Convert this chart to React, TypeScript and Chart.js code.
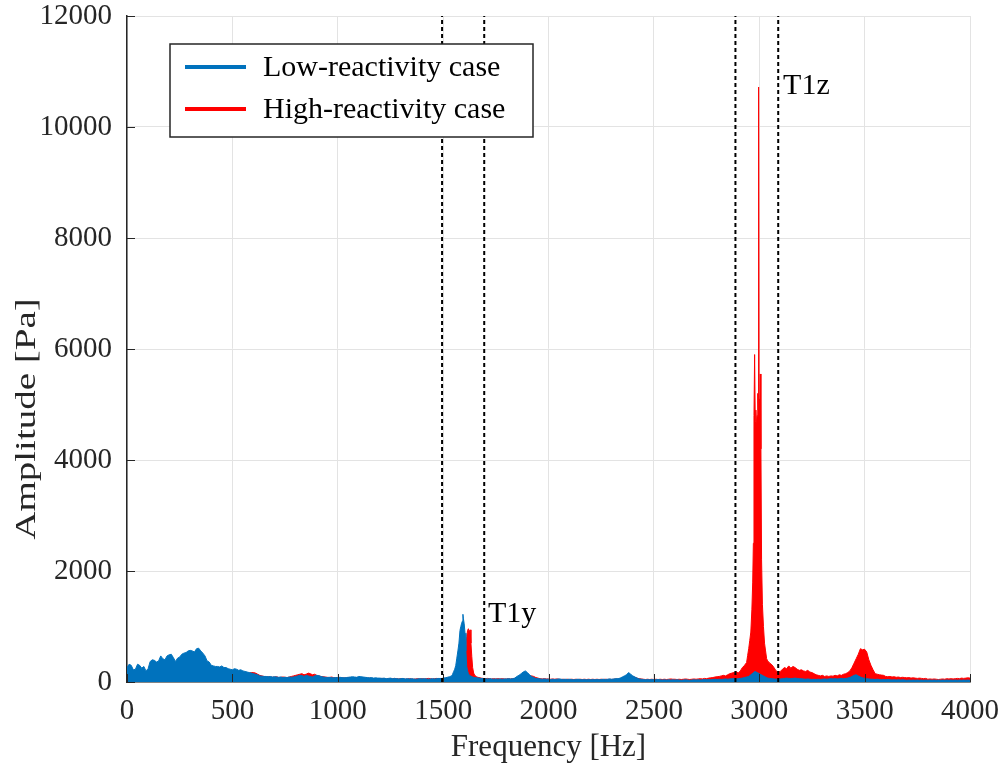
import React, { useEffect, useRef } from 'react';
import { Chart, registerables } from 'chart.js';

Chart.register(...registerables);

// ---------------- DATA ----------------
const STEP_HZ = 10; // base spectrum sampling: 0..4000 Hz every 10 Hz
const X_TICKS = [0, 500, 1000, 1500, 2000, 2500, 3000, 3500, 4000];
const Y_TICKS = [0, 2000, 4000, 6000, 8000, 10000, 12000];

// Low-reactivity case (blue), base grid, 10 Hz step
const lowAmp = [
  260, 320, 300, 220, 230, 320, 300, 250, 280, 200, 240, 370, 400, 390, 360, 380, 470, 420, 400, 470,
  490, 500, 440, 370, 430, 450, 500, 520, 530, 560, 570, 560, 540, 600, 610, 560, 520, 470, 380, 360,
  300, 290, 280, 280, 270, 290, 260, 260, 240, 230, 220, 240, 230, 210, 220, 200, 190, 180, 170, 160,
  150, 140, 130, 110, 105, 100, 100, 95, 100, 90, 95, 90, 85, 90, 80, 85, 80, 90, 85, 90,
  100, 110, 120, 115, 100, 120, 110, 100, 90, 110, 120, 115, 100, 90, 85, 80, 85, 80, 75, 80,
  80, 85, 80, 75, 80, 85, 90, 95, 90, 85, 100, 95, 90, 85, 80, 75, 80, 70, 75, 70,
  70, 65, 70, 60, 65, 70, 60, 65, 60, 55, 60, 65, 55, 60, 55, 60, 55, 50, 55, 60,
  55, 60, 55, 50, 55, 60, 55, 60, 65, 60, 70, 75, 85, 95, 110, 150, 250, 430, 900, 1000,
  1200, 560, 150, 100, 90, 80, 75, 70, 65, 60, 60, 55, 60, 55, 50, 55, 50, 55, 50, 55,
  55, 60, 55, 60, 70, 100, 120, 150, 180, 200, 170, 130, 100, 80, 65, 60, 55, 50, 55, 50,
  50, 45, 50, 45, 50, 55, 50, 45, 50, 45, 50, 45, 40, 45, 50, 45, 40, 45, 40, 45,
  40, 45, 40, 45, 40, 45, 50, 45, 50, 55, 50, 55, 60, 60, 70, 90, 110, 130, 170, 140,
  110, 90, 70, 55, 50, 45, 40, 45, 40, 45, 40, 40, 45, 40, 35, 40, 35, 40, 35, 40,
  35, 40, 35, 30, 35, 40, 35, 30, 35, 40, 35, 40, 35, 40, 45, 40, 45, 40, 45, 50,
  45, 50, 45, 50, 55, 50, 55, 60, 60, 55, 60, 65, 70, 80, 90, 100, 130, 160, 190, 170,
  150, 130, 110, 90, 70, 65, 60, 55, 50, 60, 55, 60, 65, 70, 65, 60, 65, 70, 65, 60,
  60, 55, 50, 55, 50, 45, 50, 45, 50, 45, 50, 55, 50, 55, 60, 55, 60, 55, 60, 65,
  60, 65, 70, 80, 100, 120, 130, 110, 90, 75, 65, 60, 55, 50, 50, 45, 50, 45, 40, 45,
  40, 45, 40, 35, 40, 35, 40, 35, 40, 35, 30, 35, 30, 35, 30, 35, 30, 35, 30, 35,
  30, 35, 30, 35, 30, 35, 30, 35, 30, 35, 30, 35, 30, 35, 30, 35, 30, 35, 30, 35,
  30,
];
// Low-reactivity, fine detail around the T1y peak
const lowPeakFreq = [1540, 1545, 1550, 1555, 1560, 1565, 1570, 1575, 1580, 1584, 1588, 1592, 1594, 1596, 1600, 1604, 1608, 1612, 1616, 1620, 1625, 1630, 1640, 1650];
const lowPeakAmp = [110, 140, 190, 230, 300, 430, 560, 700, 930, 1000, 1060, 1100, 1220, 1150, 1050, 880, 560, 280, 200, 150, 120, 110, 90, 80];

// High-reactivity case (red), base grid, 10 Hz step
const highAmp = [
  60, 40, 80, 50, 30, 70, 50, 90, 40, 60, 80, 50, 70, 40, 90, 60, 50, 80, 60, 70,
  90, 60, 120, 80, 70, 100, 60, 90, 80, 110, 70, 90, 60, 100, 80, 70, 90, 60, 80, 70,
  80, 70, 90, 60, 80, 100, 70, 90, 110, 80, 100, 90, 120, 100, 110, 130, 120, 140, 160, 170,
  170, 160, 140, 120, 110, 100, 90, 95, 90, 85, 90, 95, 80, 85, 90, 85, 80, 90, 100, 110,
  120, 130, 140, 150, 130, 140, 160, 150, 130, 140, 120, 110, 100, 95, 90, 85, 80, 90, 80, 75,
  80, 75, 70, 75, 70, 80, 75, 70, 75, 80, 75, 70, 65, 70, 65, 70, 65, 60, 65, 60,
  60, 65, 60, 55, 60, 55, 60, 65, 60, 55, 60, 55, 50, 55, 60, 55, 50, 55, 60, 55,
  60, 55, 60, 65, 60, 55, 60, 65, 60, 65, 60, 65, 70, 65, 70, 75, 70, 80, 90, 120,
  250, 820, 960, 940, 260, 120, 90, 80, 70, 65, 60, 65, 60, 55, 60, 55, 60, 55, 60, 55,
  55, 60, 55, 60, 65, 70, 80, 90, 100, 110, 130, 120, 110, 100, 80, 70, 60, 55, 60, 55,
  55, 50, 55, 50, 55, 50, 45, 50, 45, 50, 45, 50, 45, 50, 45, 50, 45, 50, 45, 50,
  45, 50, 45, 50, 45, 50, 45, 50, 45, 50, 45, 50, 55, 50, 55, 60, 65, 70, 80, 90,
  100, 85, 70, 60, 55, 50, 45, 50, 45, 50, 45, 50, 45, 50, 45, 50, 45, 50, 55, 50,
  50, 45, 50, 45, 50, 55, 50, 45, 50, 55, 50, 55, 60, 55, 65, 60, 70, 75, 80, 90,
  95, 100, 110, 120, 110, 130, 150, 160, 170, 190, 160, 200, 260, 300, 350, 450, 600, 700, 900, 1200,
  4800, 5000, 1000, 600, 400, 340, 310, 260, 200, 180, 190, 230, 260, 240, 290, 250, 280, 260, 230, 210,
  220, 200, 190, 210, 180, 170, 150, 130, 120, 110, 120, 100, 110, 100, 110, 105, 120, 110, 130, 120,
  140, 150, 170, 200, 260, 340, 420, 500, 600, 580, 590, 540, 400, 300, 220, 150, 140, 130, 125, 120,
  100, 95, 100, 90, 95, 85, 90, 80, 85, 80, 75, 80, 70, 75, 70, 65, 70, 65, 60, 65,
  50, 55, 50, 55, 50, 45, 50, 55, 50, 60, 55, 60, 55, 60, 65, 60, 70, 65, 70, 75,
  70,
];
// High-reactivity, fine detail around T1y and T1z peaks
const highPeak1Freq = [1590, 1596, 1600, 1604, 1608, 1612, 1616, 1620, 1624, 1628, 1632, 1636, 1640, 1645, 1650, 1660];
const highPeak1Amp = [110, 150, 250, 400, 600, 820, 930, 960, 900, 940, 700, 460, 260, 160, 120, 90];
const highPeak2Freq = [2945, 2950, 2955, 2960, 2965, 2969, 2972, 2975, 2978, 2981, 2984, 2987, 2990, 2993, 2995, 2997, 2999, 3002, 3005, 3008, 3011, 3015, 3020, 3025, 3030, 3035, 3040];
const highPeak2Amp = [480, 600, 750, 900, 1300, 1800, 2500, 4800, 5900, 4700, 4900, 4600, 4800, 5200, 4900, 10720, 5100, 4800, 5550, 4200, 2200, 1400, 1000, 700, 560, 420, 380];

// Vertical dashed mode-band limits [Hz]
const bandLines = [1495, 1695, 2887, 3090];

// Labels
const seriesNames = ['Low-reactivity case', 'High-reactivity case'];
const seriesColors = ['#0072BD', '#FF0000'];
const modeLabels = ['T1y', 'T1z'];
const modeLabelFreq = [1713, 3113];
const modeLabelAmp = [1225, 10740];
const xTitle = 'Frequency [Hz]';
const yTitle = 'Amplitude [Pa]';

// ---------------- helpers ----------------
type Pt = { x: number; y: number };
function basePoints(amp: number[]): Pt[] {
  return amp.map((a, i) => ({ x: i * STEP_HZ, y: a }));
}
function withDetail(base: Pt[], freq: number[], amp: number[]): Pt[] {
  const lo = freq[0];
  const hi = freq[freq.length - 1];
  const kept = base.filter((p) => p.x < lo || p.x > hi);
  const det = freq.map((f, i) => ({ x: f, y: amp[i] }));
  return kept.concat(det).sort((a, b) => a.x - b.x);
}

const FONT = "'Liberation Serif', 'Times New Roman', serif";
const INK = '#262626';

const overlayPlugin = {
  id: 'overlay',
  afterDraw(chart: any) {
    const ctx = chart.ctx as CanvasRenderingContext2D;
    const xs = chart.scales.x;
    const ys = chart.scales.y;
    const { left, right, bottom } = chart.chartArea;
    ctx.save();
    // inward tick marks
    ctx.strokeStyle = INK;
    ctx.lineWidth = 1;
    ctx.beginPath();
    X_TICKS.forEach((v) => {
      const px = Math.round(xs.getPixelForValue(v)) + 0.5;
      ctx.moveTo(px, bottom);
      ctx.lineTo(px, bottom - 8);
    });
    Y_TICKS.forEach((v) => {
      const py = Math.round(ys.getPixelForValue(v)) + 0.5;
      ctx.moveTo(left, py);
      ctx.lineTo(left + 8, py);
    });
    ctx.stroke();

    // mode labels
    ctx.fillStyle = '#000';
    ctx.font = `30px ${FONT}`;
    ctx.textBaseline = 'middle';
    ctx.textAlign = 'left';
    modeLabels.forEach((t, i) => {
      ctx.fillText(t, xs.getPixelForValue(modeLabelFreq[i]), ys.getPixelForValue(modeLabelAmp[i]));
    });

    // legend
    const lx = 170, ly = 44, lw = 363, lh = 93;
    ctx.fillStyle = '#fff';
    ctx.fillRect(lx, ly, lw, lh);
    ctx.strokeStyle = INK;
    ctx.lineWidth = 1.5;
    ctx.strokeRect(lx, ly, lw, lh);
    seriesNames.forEach((name, i) => {
      const cy = ly + 23 + i * 42;
      ctx.strokeStyle = seriesColors[i];
      ctx.lineWidth = 4;
      ctx.beginPath();
      ctx.moveTo(lx + 15, cy);
      ctx.lineTo(lx + 76, cy);
      ctx.stroke();
      ctx.fillStyle = '#000';
      ctx.font = `30px ${FONT}`;
      ctx.textBaseline = 'middle';
      ctx.textAlign = 'left';
      ctx.fillText(name, lx + 93, cy + 1);
    });

    // axis titles
    ctx.fillStyle = INK;
    ctx.font = `31px ${FONT}`;
    ctx.textAlign = 'center';
    ctx.textBaseline = 'middle';
    ctx.fillText(xTitle, (left + right) / 2, 748);
    ctx.font = `30px ${FONT}`;
    ctx.translate(27, 419);
    ctx.rotate(-Math.PI / 2);
    ctx.scale(1.3, 1);
    ctx.fillText(yTitle, 0, 0);
    ctx.restore();
  },
};

export default function App() {
  const canvasRef = useRef<HTMLCanvasElement | null>(null);

  useEffect(() => {
    if (!canvasRef.current) return;
    const lowData = withDetail(basePoints(lowAmp), lowPeakFreq, lowPeakAmp);
    let highData = withDetail(basePoints(highAmp), highPeak1Freq, highPeak1Amp);
    highData = withDetail(highData, highPeak2Freq, highPeak2Amp);

    const dashed = bandLines.map((f) => ({
      label: 'band',
      data: [
        { x: f, y: 0 },
        { x: f, y: 12000 },
      ],
      borderColor: '#000',
      borderWidth: 2,
      borderDash: [4, 3],
      pointRadius: 0,
      fill: false,
      order: 0,
    }));

    const chart = new Chart(canvasRef.current, {
      type: 'line',
      data: {
        datasets: [
          ...dashed,
          {
            label: seriesNames[0],
            data: lowData,
            borderColor: seriesColors[0],
            backgroundColor: seriesColors[0],
            borderWidth: 1,
            pointRadius: 0,
            fill: 'origin',
            order: 1,
          },
          {
            label: seriesNames[1],
            data: highData,
            borderColor: seriesColors[1],
            backgroundColor: seriesColors[1],
            borderWidth: 1,
            pointRadius: 0,
            fill: 'origin',
            order: 2,
          },
        ],
      } as any,
      options: {
        responsive: false,
        animation: false,
        events: [],
        layout: { autoPadding: false, padding: { left: 0, right: 35, top: 16, bottom: 0 } },
        plugins: { legend: { display: false }, tooltip: { enabled: false } },
        elements: { line: { tension: 0 } },
        scales: {
          x: {
            type: 'linear',
            min: 0,
            max: 4000,
            afterFit: (s: any) => {
              s.height = 89;
              s.paddingLeft = 0;
              s.paddingRight = 0;
            },
            afterBuildTicks: (s: any) => {
              s.ticks = X_TICKS.map((v) => ({ value: v }));
            },
            ticks: {
              font: { family: FONT, size: 29 },
              color: INK,
              padding: 12,
              maxRotation: 0,
              callback: (v: any) => String(v),
            },
            grid: { color: '#e3e3e3', lineWidth: 1, drawTicks: false },
            border: { color: INK, width: 1.5 },
          },
          y: {
            type: 'linear',
            min: 0,
            max: 12000,
            afterFit: (s: any) => {
              s.width = 127;
              s.paddingTop = 0;
              s.paddingBottom = 0;
            },
            afterBuildTicks: (s: any) => {
              s.ticks = Y_TICKS.map((v) => ({ value: v }));
            },
            ticks: {
              font: { family: FONT, size: 29 },
              color: INK,
              padding: 15,
              callback: (v: any) => String(v),
            },
            grid: { color: '#e3e3e3', lineWidth: 1, drawTicks: false },
            border: { color: INK, width: 1.5 },
          },
        },
      } as any,
      plugins: [overlayPlugin],
    });
    return () => chart.destroy();
  }, []);

  return (
    <div style={{ position: 'absolute', left: 0, top: 0, width: 1005, height: 771, background: '#fff' }}>
      <canvas ref={canvasRef} width={1005} height={771} />
    </div>
  );
}
